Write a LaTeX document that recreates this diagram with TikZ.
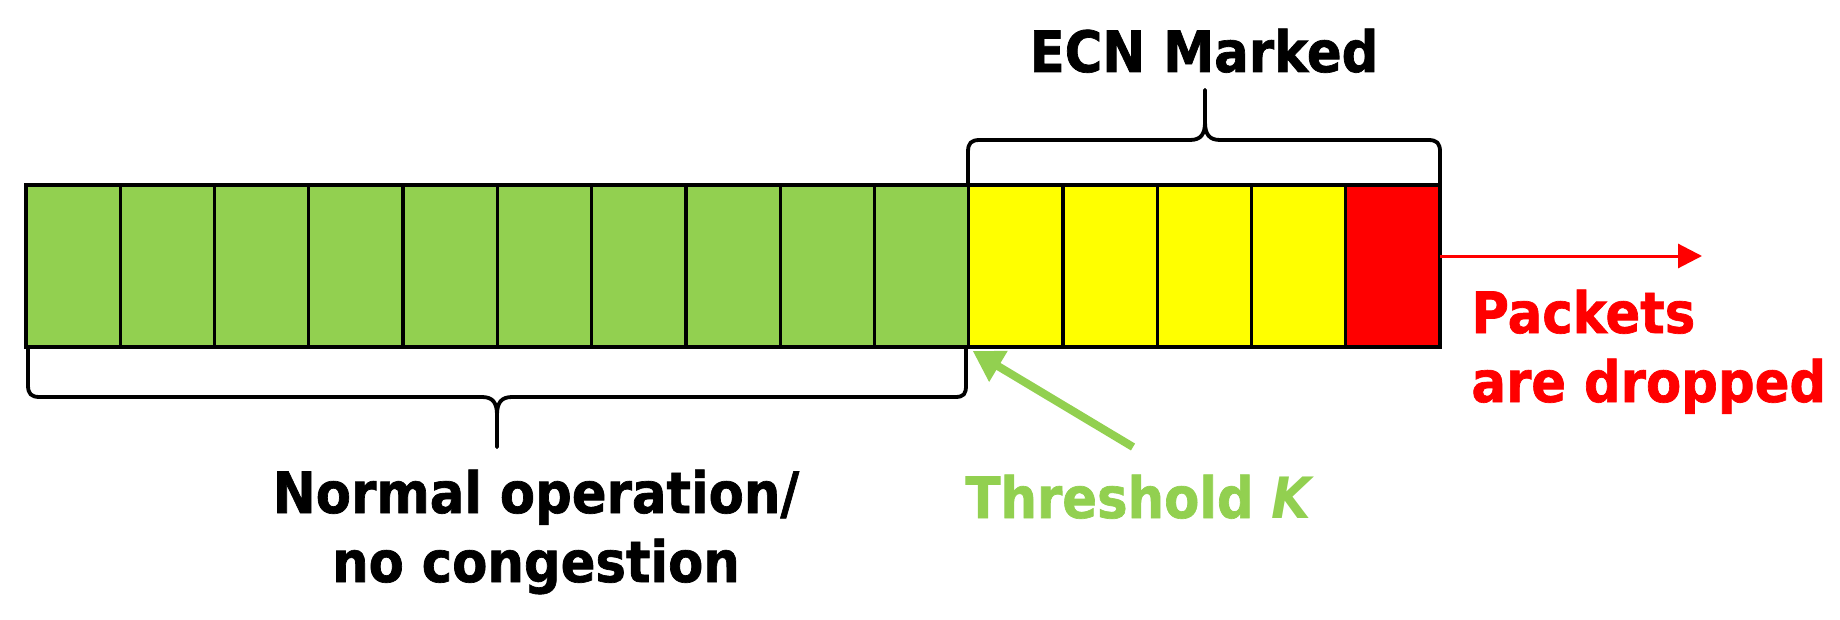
\documentclass[tikz,border=0pt]{standalone}
\usepackage{fontspec}
\setmainfont{DejaVu Sans}[FakeStretch=0.9, BoldFeatures={FakeBold=1.2}]
\usetikzlibrary{arrows.meta}
\definecolor{qgreen}{HTML}{92D050}
\definecolor{qyellow}{HTML}{FFFF00}
\definecolor{qred}{HTML}{FF0000}
\begin{document}
\begin{tikzpicture}[x=0.5pt,y=-0.5pt,
  cell/.style={draw=black, line width=1.6pt, minimum width=47.13pt, minimum height=81pt, inner sep=0pt, outer sep=0pt, anchor=north west},
  brace/.style={draw=black, line width=1.9pt, line join=round, line cap=round},
  lbl/.style={font=\bfseries\fontsize{28.5}{34.5}\selectfont, inner sep=0pt},
]
\path[use as bounding box] (0,0) rectangle (1840,620);
\foreach \i in {1,...,10} \node[cell, fill=qgreen] (c\i) at ({26+(\i-1)*94.27},185) {};
\foreach \i in {11,...,14} \node[cell, fill=qyellow] (c\i) at ({26+(\i-1)*94.27},185) {};
\node[cell, fill=qred] (c15) at ({26+14*94.27},185) {};
% top brace
\draw[brace] (968,185) -- (968,152) .. controls (968,143) and (971,140) .. (980,140) -- (1190,140) .. controls (1201,140) and (1205,134) .. (1205,122) -- (1205,90);
\draw[brace] (1205,90) -- (1205,122) .. controls (1205,134) and (1209,140) .. (1220,140) -- (1428,140) .. controls (1437,140) and (1440,143) .. (1440,152) -- (1440,185);
% bottom brace
\draw[brace] (28,347) -- (28,385) .. controls (28,394) and (31,397) .. (40,397) -- (482,397) .. controls (493,397) and (497,403) .. (497,415) -- (497,447);
\draw[brace] (497,447) -- (497,415) .. controls (497,403) and (501,397) .. (512,397) -- (955,397) .. controls (964,397) and (966,394) .. (966,385) -- (966,347);
% labels
\node[lbl, anchor=base] (ecn) at (1204,72) {ECN Marked};
\node[lbl, anchor=base, align=center] (normal) at (536,582) {Normal operation/\\no congestion};
\node[lbl, anchor=base, text=qgreen] (thr) at (1140,518) {Threshold \textit{K}};
\node[lbl, anchor=base west, align=left, text=qred] (drop) at (1471,402) {Packets\\are dropped};
% arrows
\coordinate (redend) at (1702,256);
\draw[qred, line width=1.5pt, -{Triangle[length=12pt,width=12pt]}] ([yshift=5pt]c15.east) -- (redend);
\coordinate (thrtail) at (1133,447);
\draw[qgreen, line width=4pt, -{Triangle[length=15pt,width=17pt]}] (thrtail) -- ([xshift=2pt,yshift=-2pt]c11.south west);
\end{tikzpicture}
\end{document}
